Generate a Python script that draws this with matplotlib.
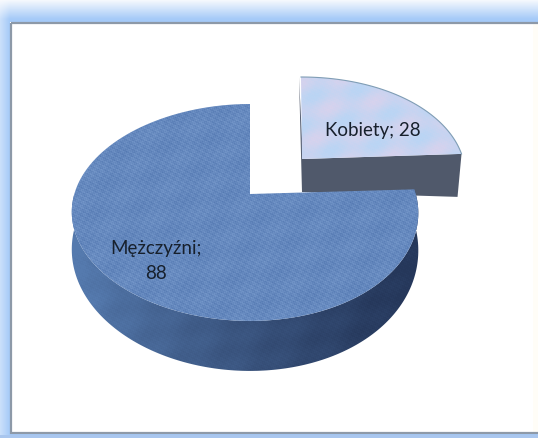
import numpy as np
import matplotlib
matplotlib.use('Agg')
import matplotlib.pyplot as plt
from matplotlib.patches import Polygon, Rectangle

# Pie data
labels = ['Mężczyźni;\n88', 'Kobiety; 28']
values = [88, 28]

W, H = 538, 439
K = 0.161  # perspective of the tilted disc


def lerp(c1, c2, t):
    c1 = np.array(matplotlib.colors.to_rgb(c1))
    c2 = np.array(matplotlib.colors.to_rgb(c2))
    t = np.clip(t, 0, 1)[..., None]
    return c1 * (1 - t) + c2 * t


def project(t, cx, cy, rx, ry):
    # angle in degrees -> pixel position on the tilted disc
    t = np.radians(t)
    X, Y = np.cos(t), np.sin(t)
    x = cx + rx * (1 - 0.029 * X) * X / (1 + K * Y)
    y = cy - ry * (1 + K) * Y / (1 + K * Y)
    return x, y


def weave(xx, yy):
    # woven cloth look: short stitches in rows plus slow blotches
    row = np.floor(yy / 4.0)
    fine = np.sin((xx + row * 2.3) * 2 * np.pi / 8.0) * np.sin(yy * 2 * np.pi / 4.0)
    fine = 0.6 * fine + 0.6 * np.sin(xx * 2.1 + yy * 1.3) * np.sin(xx * 0.9 - yy * 2.3)
    mid = np.sin(xx / 11.0 + yy / 7.0) * np.sin(yy / 13.0 - xx / 17.0)
    return fine, mid


fig = plt.figure(figsize=(W / 100, H / 100), dpi=100)
ax = fig.add_axes([0, 0, 1, 1])
ax.set_xlim(0, W)
ax.set_ylim(H, 0)
ax.axis('off')

yy, xx = np.mgrid[0:H, 0:W] + 0.5
extent = (0, W, H, 0)

# Blue glow frame around the white panel
sy = np.clip(yy / 20.0, 0, 1)
sx = 0.55 + 0.45 * np.clip(xx / 10.0, 0, 1)
bg = lerp('#fbfcfe', '#a5caf8', sy * sx)
inner = (xx > 10) & (yy > 23) & (yy < 435)
bg[inner] = np.array([1, 1, 1.0])
cream = inner & (xx > 533)
bg[cream] = matplotlib.colors.to_rgb('#fffdf7')
bg[yy > 436] = matplotlib.colors.to_rgb('#a9c6ee')
ax.imshow(bg, extent=extent, aspect='auto', zorder=0, interpolation='bilinear')
ax.add_patch(Rectangle((11, 23.5), W + 10, 411, fill=False, ec='#8d99a8', lw=1.6, zorder=1))

# slice angles
sweep = np.array(values) / sum(values) * 360
a0 = 90
a1 = a0 + sweep[0]
fine, mid = weave(xx, yy)

# big slice, side wall
t_side = np.linspace(180, a1 - 0.1, 200)
sx1, sy1 = project(t_side, 250, 196, 171, 91)
depth = 35 - 15 * np.sin(np.radians(t_side))
side_pts = np.vstack([np.c_[sx1, sy1], np.c_[sx1, sy1 + depth][::-1]])
side = Polygon(side_pts, closed=True, fc='none', ec='none', transform=ax.transData)
ax.add_patch(side)
shade = np.clip((xx - 85) / 320.0, 0, 1) ** 0.8
img = lerp('#557aae', '#25375a', shade + fine * 0.05 + mid * 0.05)
im = ax.imshow(img, extent=extent, aspect='auto', zorder=2)
im.set_clip_path(side)

# big slice, top face
t_big = np.linspace(a0, a1, 300)
bx, by = project(t_big, 250, 196, 171, 91)
top_pts = np.vstack([[250, 195], np.c_[bx, by]])
top = Polygon(top_pts, closed=True, fc='none', ec='none', transform=ax.transData)
ax.add_patch(top)
img = lerp('#4f74ae', '#7c9ecf', 0.5 + fine * 0.3 + mid * 0.08)
im = ax.imshow(img, extent=extent, aspect='auto', zorder=3)
im.set_clip_path(top)

# small slice, side wall and top face, pulled out to the upper right
t_small = np.linspace(a1 - 360, a0, 120)
kx, ky = project(t_small, 301, 160, 167, 82)
wall = np.array([[299, 78], [303, 160], [kx[0], ky[0]], [kx[0] - 4, ky[0] + 43], [302, 193]])
ax.add_patch(Polygon(wall, closed=True, fc='#50596b', ec='none', zorder=1.5))
small_pts = np.vstack([[302, 160], np.c_[kx, ky][::-1]])
small = Polygon(small_pts, closed=True, fc='none', ec='none', transform=ax.transData)
ax.add_patch(small)
img = lerp('#bad5f4', '#dcd2ec', 0.4 + mid * 0.4 + fine * 0.1)
im = ax.imshow(img, extent=extent, aspect='auto', zorder=1.7)
im.set_clip_path(small)
ax.plot(kx, ky, color='#7f9db5', lw=0.8, zorder=1.8)
ax.set_xlim(0, W)
ax.set_ylim(H, 0)

# data labels
ax.text(156, 261, labels[0], ha='center', va='center', fontsize=13.5, family='Lato',
        color='#17202c', linespacing=1.55, zorder=5)
ax.text(373, 131, labels[1], ha='center', va='center', fontsize=13.5, family='Lato',
        color='#17202c', zorder=5)

fig.savefig('out.png', dpi=100)
